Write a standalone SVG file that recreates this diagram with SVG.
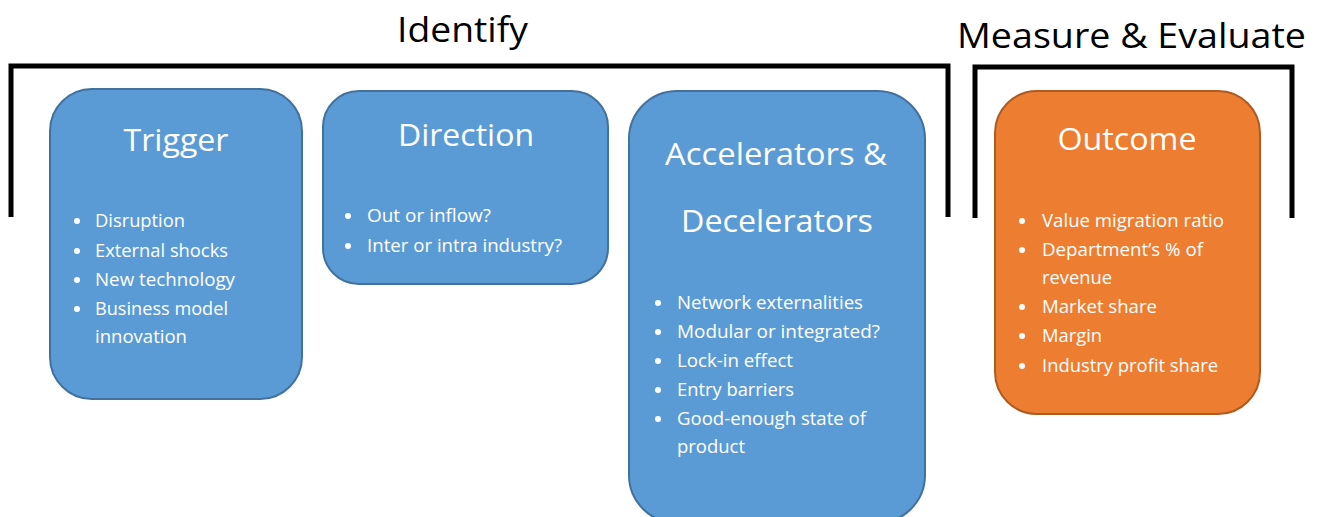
<svg xmlns="http://www.w3.org/2000/svg" width="1318" height="517" viewBox="0 0 1318 517">
  <style>
    .head { font-family: "Open Sans", "Liberation Sans", sans-serif; font-size: 34px; fill: #000; }
    .title { font-family: "Open Sans", "Liberation Sans", sans-serif; font-size: 31px; fill: #fff; text-anchor: middle; }
    .item { font-family: "Open Sans", "Liberation Sans", sans-serif; font-size: 18px; fill: #fff; }
    .bracket { fill: none; stroke: #000; stroke-width: 5; stroke-linejoin: miter; }
    .blue { fill: #5B9BD5; stroke: #41719C; stroke-width: 2; }
    .orange { fill: #ED7D31; stroke: #AE5A21; stroke-width: 2; }
    .dot { fill: #fff; }
  </style>

  <!-- phase headings with brackets -->
  <g id="phase-identify">
    <text class="head" x="397" y="42" textLength="131" lengthAdjust="spacingAndGlyphs">Identify</text>
    <path class="bracket" d="M11,217 V66 H948 V217"/>
  </g>
  <g id="phase-measure">
    <text class="head" x="957" y="48" textLength="349" lengthAdjust="spacingAndGlyphs">Measure &amp; Evaluate</text>
    <path class="bracket" d="M975,218 V67 H1292 V218"/>
  </g>

  <g id="trigger">
    <rect class="blue" x="50" y="89" width="252" height="310" rx="42"/>
    <text class="title" x="176" y="151" textLength="105" lengthAdjust="spacingAndGlyphs">Trigger</text>
    <circle class="dot" cx="77" cy="221" r="3"/>
    <text class="item" x="95" y="227" textLength="90" lengthAdjust="spacingAndGlyphs">Disruption</text>
    <circle class="dot" cx="77" cy="251" r="3"/>
    <text class="item" x="95" y="257" textLength="133" lengthAdjust="spacingAndGlyphs">External shocks</text>
    <circle class="dot" cx="77" cy="280" r="3"/>
    <text class="item" x="95" y="286" textLength="140" lengthAdjust="spacingAndGlyphs">New technology</text>
    <circle class="dot" cx="77" cy="309" r="3"/>
    <text class="item" x="95" y="315" textLength="133" lengthAdjust="spacingAndGlyphs">Business model</text>
    <text class="item" x="95" y="343" textLength="92" lengthAdjust="spacingAndGlyphs">innovation</text>
  </g>

  <g id="direction">
    <rect class="blue" x="323" y="91" width="285" height="193" rx="36"/>
    <text class="title" x="466" y="146" textLength="136" lengthAdjust="spacingAndGlyphs">Direction</text>
    <circle class="dot" cx="348" cy="216" r="3"/>
    <text class="item" x="367" y="222" textLength="124" lengthAdjust="spacingAndGlyphs">Out or inflow?</text>
    <circle class="dot" cx="348" cy="246" r="3"/>
    <text class="item" x="367" y="252" textLength="195" lengthAdjust="spacingAndGlyphs">Inter or intra industry?</text>
  </g>

  <g id="accelerators">
    <rect class="blue" x="629" y="91" width="296" height="432" rx="48"/>
    <text class="title" x="776" y="165" textLength="222" lengthAdjust="spacingAndGlyphs">Accelerators &amp;</text>
    <text class="title" x="777" y="232" textLength="192" lengthAdjust="spacingAndGlyphs">Decelerators</text>
    <circle class="dot" cx="658" cy="303" r="3"/>
    <text class="item" x="677" y="309" textLength="186" lengthAdjust="spacingAndGlyphs">Network externalities</text>
    <circle class="dot" cx="658" cy="332" r="3"/>
    <text class="item" x="677" y="338" textLength="203" lengthAdjust="spacingAndGlyphs">Modular or integrated?</text>
    <circle class="dot" cx="658" cy="361" r="3"/>
    <text class="item" x="677" y="367" textLength="116" lengthAdjust="spacingAndGlyphs">Lock-in effect</text>
    <circle class="dot" cx="658" cy="390" r="3"/>
    <text class="item" x="677" y="396" textLength="117" lengthAdjust="spacingAndGlyphs">Entry barriers</text>
    <circle class="dot" cx="658" cy="419" r="3"/>
    <text class="item" x="677" y="425" textLength="189" lengthAdjust="spacingAndGlyphs">Good-enough state of</text>
    <text class="item" x="677" y="453" textLength="68" lengthAdjust="spacingAndGlyphs">product</text>
  </g>

  <g id="outcome">
    <rect class="orange" x="995" y="91" width="265" height="323" rx="42"/>
    <text class="title" x="1127" y="150" textLength="139" lengthAdjust="spacingAndGlyphs">Outcome</text>
    <circle class="dot" cx="1022" cy="221" r="3"/>
    <text class="item" x="1042" y="227" textLength="182" lengthAdjust="spacingAndGlyphs">Value migration ratio</text>
    <circle class="dot" cx="1022" cy="250" r="3"/>
    <text class="item" x="1042" y="256" textLength="161" lengthAdjust="spacingAndGlyphs">Department’s % of</text>
    <text class="item" x="1042" y="284" textLength="70" lengthAdjust="spacingAndGlyphs">revenue</text>
    <circle class="dot" cx="1022" cy="307" r="3"/>
    <text class="item" x="1042" y="313" textLength="115" lengthAdjust="spacingAndGlyphs">Market share</text>
    <circle class="dot" cx="1022" cy="336" r="3"/>
    <text class="item" x="1042" y="342" textLength="60" lengthAdjust="spacingAndGlyphs">Margin</text>
    <circle class="dot" cx="1022" cy="366" r="3"/>
    <text class="item" x="1042" y="372" textLength="176" lengthAdjust="spacingAndGlyphs">Industry profit share</text>
  </g>

  <!-- no connectors between the phases -->
  <g id="connectors"></g>
</svg>
